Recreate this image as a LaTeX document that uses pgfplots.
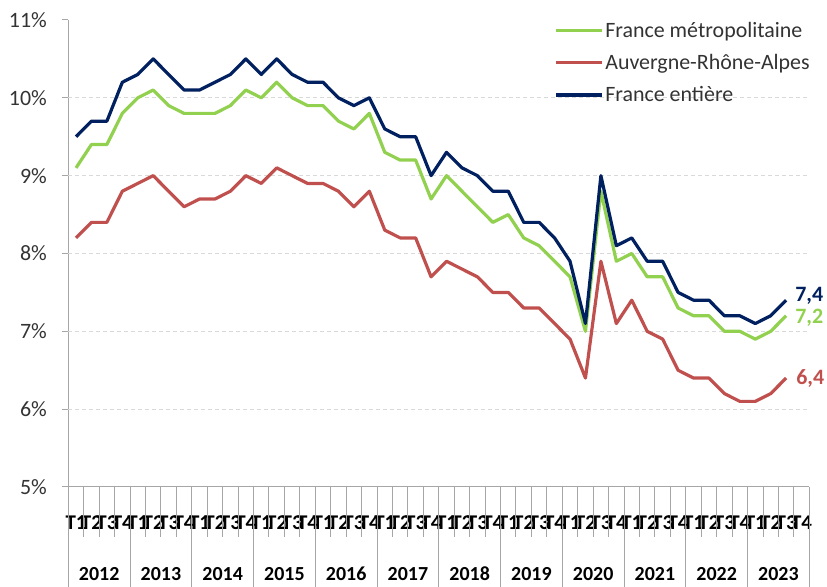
\documentclass[border=0pt]{standalone}
\usepackage{fontspec}
\setmainfont{Carlito}
\usepackage{pgfplots}
\usepackage{pgfplotstable}
\pgfplotsset{compat=1.18}
\definecolor{cgreen}{HTML}{92D050}
\definecolor{cred}{HTML}{C0504D}
\definecolor{cblue}{HTML}{002060}
\definecolor{axgray}{HTML}{A6A6A6}
\definecolor{gridgray}{HTML}{D9D9D9}
\definecolor{txt}{HTML}{333333}

\pgfplotstableread{
idx fm ara fe
0 9.1 8.2 9.5
1 9.4 8.4 9.7
2 9.4 8.4 9.7
3 9.8 8.8 10.2
4 10.0 8.9 10.3
5 10.1 9.0 10.5
6 9.9 8.8 10.3
7 9.8 8.6 10.1
8 9.8 8.7 10.1
9 9.8 8.7 10.2
10 9.9 8.8 10.3
11 10.1 9.0 10.5
12 10.0 8.9 10.3
13 10.2 9.1 10.5
14 10.0 9.0 10.3
15 9.9 8.9 10.2
16 9.9 8.9 10.2
17 9.7 8.8 10.0
18 9.6 8.6 9.9
19 9.8 8.8 10.0
20 9.3 8.3 9.6
21 9.2 8.2 9.5
22 9.2 8.2 9.5
23 8.7 7.7 9.0
24 9.0 7.9 9.3
25 8.8 7.8 9.1
26 8.6 7.7 9.0
27 8.4 7.5 8.8
28 8.5 7.5 8.8
29 8.2 7.3 8.4
30 8.1 7.3 8.4
31 7.9 7.1 8.2
32 7.7 6.9 7.9
33 7.0 6.4 7.1
34 8.8 7.9 9.0
35 7.9 7.1 8.1
36 8.0 7.4 8.2
37 7.7 7.0 7.9
38 7.7 6.9 7.9
39 7.3 6.5 7.5
40 7.2 6.4 7.4
41 7.2 6.4 7.4
42 7.0 6.2 7.2
43 7.0 6.1 7.2
44 6.9 6.1 7.1
45 7.0 6.2 7.2
46 7.2 6.4 7.4
}\datatable

\begin{document}
\begin{tikzpicture}[x=1bp,y=1bp]
\useasboundingbox (0,0) rectangle (827,587);
\begin{axis}[
  at={(68.3bp,100bp)}, anchor=south west,
  scale only axis, width=741bp, height=467bp,
  xmin=0, xmax=48, ymin=5, ymax=11,
  axis x line*=bottom, axis y line*=left,
  axis line style={axgray, line width=1bp},
  clip=false,
  ytick={5,6,...,11},
  yticklabels={5\%,6\%,7\%,8\%,9\%,10\%,11\%},
  tick align=outside,
  major tick length=6bp,
  ytick style={axgray, line width=1bp},
  yticklabel style={font=\fontsize{22}{22}\selectfont, text=txt, xshift=-12bp},
  extra y ticks={6,7,8,9,10},
  extra y tick labels={},
  extra y tick style={grid=major, major grid style={gridgray, dashed, line width=1bp, dash pattern=on 4bp off 3bp}, ytick style={draw=none}},
  xtick={0.5,1.5,...,47.5},
  xticklabels={T1,T2,T3,T4,T1,T2,T3,T4,T1,T2,T3,T4,T1,T2,T3,T4,T1,T2,T3,T4,T1,T2,T3,T4,T1,T2,T3,T4,T1,T2,T3,T4,T1,T2,T3,T4,T1,T2,T3,T4,T1,T2,T3,T4,T1,T2,T3,T4},
  xtick style={draw=none},
  xticklabel style={font=\bfseries\fontsize{21}{21}\selectfont, text=black, anchor=center, yshift=-30bp, inner sep=0pt},
  legend style={at={(0.652,1.003)}, anchor=north west, draw=none, fill=none,
    font=\fontsize{22}{22}\selectfont, text=txt, row sep=12.5bp,
    nodes={inner sep=1.5bp}},
  legend cell align=left,
  legend image code/.code={\draw[#1] (0bp,0bp) -- (46bp,0bp);},
  every axis plot/.append style={line width=3.2bp, line join=round},
]
\addplot[cgreen] table[x expr=\thisrow{idx}+0.5, y=fm]{\datatable};
\addlegendentry{France métropolitaine}
\addplot[cred] table[x expr=\thisrow{idx}+0.5, y=ara]{\datatable};
\addlegendentry{Auvergne-Rhône-Alpes}
\addplot[cblue] table[x expr=\thisrow{idx}+0.5, y=fe]{\datatable};
\addlegendentry{France entière}

\pgfplotsinvokeforeach{0,...,48}{
  \draw[axgray, line width=1bp] (axis cs:#1,5) -- ([yshift=-50bp]axis cs:#1,5);
}
\pgfplotsinvokeforeach{0,4,...,48}{
  \draw[axgray, line width=1bp] ([yshift=-50bp]axis cs:#1,5) -- ([yshift=-100bp]axis cs:#1,5);
}
\pgfplotsinvokeforeach{2012,...,2023}{
  \node[font=\bfseries\fontsize{20}{20}\selectfont, anchor=center] at ([yshift=-87bp]axis cs:{(#1-2012)*4+2},5) {#1};
}
\node[font=\bfseries\fontsize{22}{22}\selectfont, text=cblue, anchor=west, inner sep=0pt] at ([xshift=9bp,yshift=4bp]axis cs:46.5,7.4) {7,4};
\node[font=\bfseries\fontsize{22}{22}\selectfont, text=cgreen, anchor=west, inner sep=0pt] at ([xshift=9bp,yshift=-2bp]axis cs:46.5,7.2) {7,2};
\node[font=\bfseries\fontsize{22}{22}\selectfont, text=cred, anchor=west, inner sep=0pt] at ([xshift=10bp]axis cs:46.5,6.4) {6,4};
\end{axis}
\end{tikzpicture}
\end{document}
